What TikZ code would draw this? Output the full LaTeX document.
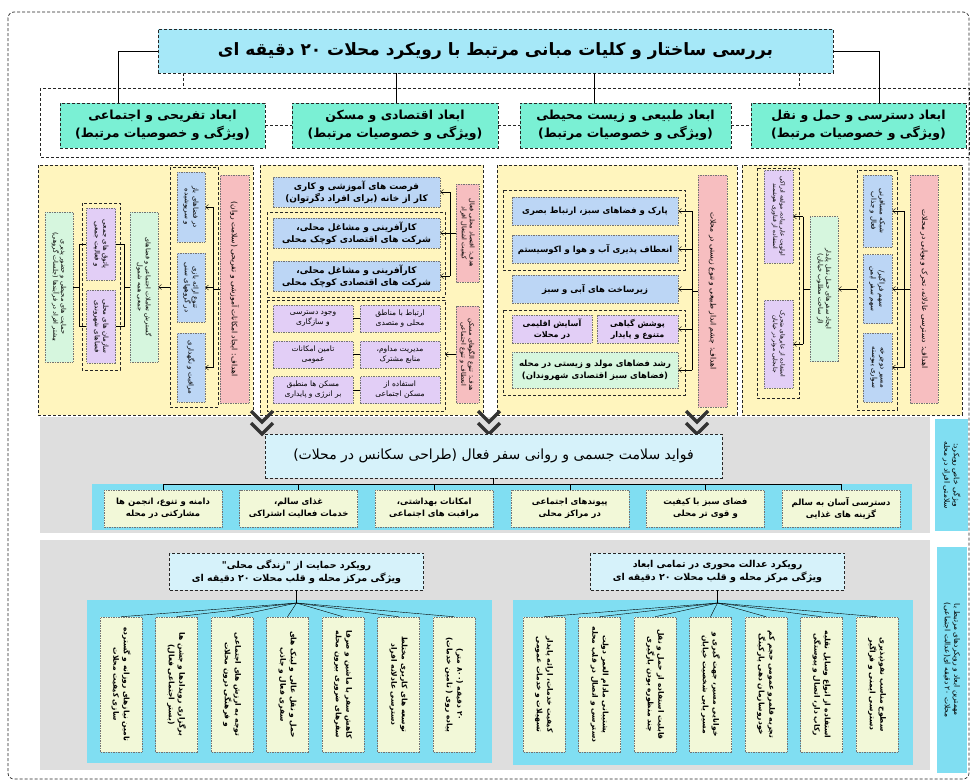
\documentclass[tikz,border=0pt]{standalone}
\usepackage{fontspec}
\newfontfamily\farsi[Script=Arabic]{DejaVu Sans}
\TeXXeTstate=1
\newcommand{\fa}[1]{\beginR#1\endR}
\usetikzlibrary{arrows.meta,positioning}
\definecolor{titlecyan}{RGB}{166,232,248}
\definecolor{dimgreen}{RGB}{122,240,212}
\definecolor{colyellow}{RGB}{255,245,190}
\definecolor{goalpink}{RGB}{247,190,192}
\definecolor{itemblue}{RGB}{188,214,245}
\definecolor{itempurple}{RGB}{226,206,246}
\definecolor{itemgreen}{RGB}{214,246,222}
\definecolor{bandgray}{RGB}{222,222,222}
\definecolor{stripcyan}{RGB}{128,222,242}
\definecolor{cellcream}{RGB}{242,248,216}
\definecolor{lightcyan}{RGB}{214,242,250}

\begin{document}
\begin{tikzpicture}[x=1pt, y=-1pt,
	font=\farsi,
	>={Straight Barb[length=3pt,width=5pt]},
	dashframe/.style={draw=black!85, dash pattern=on 3pt off 2pt, line width=.7pt},
	colbox/.style={dashframe, fill=colyellow},
	groupbox/.style={dashframe, line width=.6pt},
	box/.style={draw=black!55, dash pattern=on 1.5pt off 1pt, line width=.5pt, align=center, inner sep=1pt},
	sideways/.style={rotate=-90},
	headbox/.style={box, dashframe, fill=titlecyan, minimum width=675, minimum height=44, font=\farsi\bfseries\fontsize{17}{20}\selectfont},
	dimbox/.style={box, dashframe, fill=dimgreen, minimum height=45, font=\farsi\bfseries\fontsize{12.5}{18}\selectfont},
	goalbox/.style={box, sideways, fill=goalpink, font=\farsi\fontsize{7.5}{9}\selectfont},
	bluebox/.style={box, fill=itemblue, minimum width=167, font=\farsi\bfseries\fontsize{9}{12}\selectfont},
	smallblue/.style={box, sideways, fill=itemblue, minimum height=28, font=\farsi\fontsize{7}{8.5}\selectfont},
	smallpurple/.style={box, sideways, fill=itempurple, minimum height=29, font=\farsi\fontsize{7}{8.5}\selectfont},
	smallgreen/.style={box, sideways, fill=itemgreen, minimum height=28, font=\farsi\fontsize{6.5}{8}\selectfont},
	purplebox/.style={box, fill=itempurple, minimum width=80, minimum height=27, font=\farsi\fontsize{7.5}{10}\selectfont},
	greenbox/.style={box, fill=itemgreen, font=\farsi\bfseries\fontsize{8.5}{12}\selectfont},
	benefitbox/.style={box, dashframe, fill=lightcyan, minimum width=457, minimum height=44, font=\farsi\fontsize{14}{17}\selectfont},
	cellbox/.style={box, fill=cellcream, minimum width=118, minimum height=37, font=\farsi\bfseries\fontsize{8.5}{12}\selectfont},
	approach/.style={box, dashframe, fill=lightcyan, minimum width=254, minimum height=37, font=\farsi\bfseries\fontsize{9.5}{13}\selectfont},
	tallcell/.style={box, sideways, fill=cellcream, minimum width=135, minimum height=42, font=\farsi\bfseries\fontsize{7.5}{10.5}\selectfont},
	sidelabel/.style={box, sideways, draw=none, fill=stripcyan, font=\farsi\fontsize{7.5}{9.5}\selectfont},
	chevron/.style={line width=3.5pt, draw=black!80},
]
\fill[white] (0,0) rectangle (971,782);
\useasboundingbox (0,0) rectangle (971,782);
\draw[dashframe, rounded corners=6] (8,12) rectangle (969,779);
\draw[dashframe] (40,88) rectangle (969,157);

\node[headbox] (title) at (495.5,51) {\fa{بررسی ساختار و کلیات مبانی مرتبط با رویکرد محلات ۲۰ دقیقه ای}};
\node[dimbox, minimum width=205] (dRec) at (162.5,125.5) {\fa{ابعاد تفریحی و اجتماعی}\\\fa{(ویژگی و خصوصیات مرتبط)}};
\node[dimbox, minimum width=206] (dEco) at (395,125.5) {\fa{ابعاد اقتصادی و مسکن}\\\fa{(ویژگی و خصوصیات مرتبط)}};
\node[dimbox, minimum width=211] (dEnv) at (625.5,125.5) {\fa{ابعاد طبیعی و زیست محیطی}\\\fa{(ویژگی و خصوصیات مرتبط)}};
\node[dimbox, minimum width=215] (dAcc) at (858.5,125.5) {\fa{ابعاد دسترسی و حمل و نقل}\\\fa{(ویژگی و خصوصیات مرتبط)}};
\coordinate (kRec) at (118,103);
\coordinate (kEco) at (396,103);
\coordinate (kEnv) at (594,103);
\coordinate (kAcc) at (879,103);
\coordinate (kL) at (183,88);
\coordinate (kR) at (799,88);
\draw[line width=.8pt] (title.west) -| (kRec);
\draw[line width=.8pt] (title.east) -| (kAcc);
\draw[line width=.8pt] (title.south -| kEco) -- (kEco);
\draw[line width=.8pt] (title.south -| kEnv) -- (kEnv);
\draw[dashframe] (title.south -| kL) -- (kL);
\draw[dashframe] (title.south -| kR) -- (kR);
\draw[dashframe] (dRec) -- (dEco);
\draw[dashframe] (dEco) -- (dEnv);
\draw[dashframe] (dEnv) -- (dAcc);

\foreach \xa/\xb in {38/253, 260/483, 497/737, 742/962}
	\draw[colbox] (\xa,165) rectangle (\xb,415);

\node[goalbox, minimum width=228, minimum height=29] (pRec) at (234.5,289) {\fa{اهداف: ایجاد امکانات آموزشی و تفریحی (سلامت روان)}};
\draw[groupbox] (170,167) rectangle (218,407);
\node[smallblue, minimum width=70] (bRec1) at (191,207) {\fa{در فضاهای باز}\\\fa{و سرپوشیده}};
\node[smallblue, minimum width=69] (bRec2) at (191,287.5) {\fa{تنوع ارائه بازی}\\\fa{در گروههای سنی}};
\node[smallblue, minimum width=69] (bRec3) at (191,367.5) {\fa{مراقبت و نگهداری}};
\coordinate (busRec) at (213,289);
\draw (pRec) -- (busRec);
\draw (busRec |- bRec1) -- (busRec |- bRec3);
\foreach \n in {bRec1,bRec2,bRec3}
	\draw[->] (busRec |- \n) -- (\n);
\node[smallgreen, minimum width=150] (gRec1) at (144,287) {\fa{گسترش تعاملات اجتماعی و فضاهای}\\\fa{جمعی همه شمول}};
\coordinate (eRec) at (170,287);
\draw[->] (eRec) -- (gRec1);
\draw[groupbox] (82,203) rectangle (120,370);
\node[smallpurple, minimum width=72] (uRec1) at (101,244) {\fa{پاتوق های جمعی}\\\fa{و فعالیت جمعی}};
\node[smallpurple, minimum width=73] (uRec2) at (101,326.5) {\fa{سازمان های محلی}\\\fa{فضاهای شهروندی}};
\node[smallgreen, minimum width=150] (gRec2) at (59,287) {\fa{حمایت های محیطی و حضور پذیری}\\\fa{بیشتر افراد در فرآیندها (جلسات گروهی)}};
\coordinate (jRec1) at (124,287);
\coordinate (jRec2) at (79,287);
\draw (uRec1) -| (jRec1) -- (gRec1);
\draw (uRec2) -| (jRec1);
\draw (uRec1) -| (jRec2) -- (gRec2);
\draw (uRec2) -| (jRec2);

\node[goalbox, minimum width=98, minimum height=23, font=\farsi\fontsize{6.5}{8}\selectfont] (pEco1) at (467.5,233) {\fa{هدف: اقتصاد محلی فعال}\\\fa{کیفیت اشتغال افراد}};
\node[goalbox, minimum width=97, minimum height=23, font=\farsi\fontsize{6.5}{8}\selectfont] (pEco2) at (467.5,354.5) {\fa{هدف: تنوع الگوهای مسکن}\\\fa{انعطاف و تنوع اجتماعی}};
\node[bluebox, minimum height=30] (bEco1) at (356.5,192) {\fa{فرصت های آموزشی و کاری}\\\fa{کار از خانه (برای افراد دگرتوان)}};
\draw[groupbox] (267,212) rectangle (445,297);
\node[bluebox, minimum height=30] (bEco2) at (356.5,233) {\fa{کارآفرینی و مشاغل محلی،}\\\fa{شرکت های اقتصادی کوچک محلی}};
\node[bluebox, minimum height=30] (bEco3) at (356.5,276) {\fa{کارآفرینی و مشاغل محلی،}\\\fa{شرکت های اقتصادی کوچک محلی}};
\coordinate (busEco) at (450,233);
\draw (pEco1) -- (busEco);
\draw (busEco |- bEco1) -- (busEco |- bEco3);
\foreach \n in {bEco1,bEco2,bEco3}
	\draw[->] (busEco |- \n) -- (\n);
\draw[groupbox] (267,300) rectangle (445,411);
\node[purplebox] (cEco1) at (400,318.5) {\fa{ارتباط با مناطق}\\\fa{محلی و متصدی}};
\node[purplebox] (cEco2) at (313,318.5) {\fa{وجود دسترسی}\\\fa{و سازگاری}};
\node[purplebox] (cEco3) at (400,354.5) {\fa{مدیریت مداوم،}\\\fa{منابع مشترک}};
\node[purplebox] (cEco4) at (313,354.5) {\fa{تامین امکانات}\\\fa{عمومی}};
\node[purplebox] (cEco5) at (400,390) {\fa{استفاده از}\\\fa{مسکن اجتماعی}};
\node[purplebox] (cEco6) at (313,390) {\fa{مسکن ها منطبق}\\\fa{بر انرژی و پایداری}};
\draw (cEco1) -- (cEco2);
\draw (cEco3) -- (cEco4);
\draw (cEco5) -- (cEco6);
\coordinate (eEco) at (445,354.5);
\draw[->] (pEco2) -- (eEco);

\node[goalbox, minimum width=232, minimum height=29] (pEnv) at (712.5,291) {\fa{اهداف: چشم انداز طبیعی و تنوع زیستی در محلات}};
\draw[groupbox] (503,190) rectangle (685,270);
\node[bluebox, minimum width=166, minimum height=28, font=\farsi\bfseries\fontsize{8.5}{12}\selectfont] (bEnv1) at (595,211) {\fa{پارک و فضاهای سبز، ارتباط بصری}};
\node[bluebox, minimum width=166, minimum height=28, font=\farsi\bfseries\fontsize{8.5}{12}\selectfont] (bEnv2) at (595,249) {\fa{انعطاف پذیری آب و هوا و اکوسیستم}};
\node[bluebox, minimum width=166, minimum height=28, font=\farsi\bfseries\fontsize{8.5}{12}\selectfont] (bEnv3) at (595,289) {\fa{زیرساخت های آبی و سبز}};
\draw[groupbox] (503,310) rectangle (685,395);
\node[purplebox, minimum width=81, minimum height=28, font=\farsi\bfseries\fontsize{8}{11}\selectfont] (uEnv1) at (637.5,329) {\fa{پوشش گیاهی}\\\fa{متنوع و پایدار}};
\node[purplebox, minimum height=28, font=\farsi\bfseries\fontsize{8}{11}\selectfont] (uEnv2) at (552,329) {\fa{آسایش اقلیمی}\\\fa{در محلات}};
\node[greenbox, minimum width=166, minimum height=36] (gEnv) at (595,370) {\fa{رشد فضاهای مولد و زیستی در محله}\\\fa{(فضاهای سبز اقتصادی شهروندان)}};
\coordinate (busEnv) at (692,291);
\draw (pEnv) -- (busEnv);
\draw (busEnv |- bEnv1) -- (busEnv |- gEnv);
\foreach \n in {bEnv1,bEnv2,bEnv3,uEnv1,gEnv}
	\draw[->] (busEnv |- \n) -- (\n);

\node[goalbox, minimum width=228, minimum height=28] (pAcc) at (924,289) {\fa{اهداف: دسترسی عادلانه، تحرک و پویایی در محلات}};
\draw[groupbox] (857,170) rectangle (897,410);
\node[smallblue, minimum width=72, minimum height=29] (bAcc1) at (877.5,211) {\fa{شبکه مسافرتی}\\\fa{فعال و جذاب}};
\node[smallblue, minimum width=69, minimum height=29] (bAcc2) at (877.5,289) {\fa{سهم فراگیر/}\\\fa{سهم سفر ایمن}};
\node[smallblue, minimum width=69, minimum height=29] (bAcc3) at (877.5,367.5) {\fa{مسیر دوچرخه}\\\fa{سواری پیوسته}};
\coordinate (busAcc) at (904,289);
\draw (pAcc) -- (busAcc);
\draw (busAcc |- bAcc1) -- (busAcc |- bAcc3);
\foreach \n in {bAcc1,bAcc2,bAcc3}
	\draw[->] (busAcc |- \n) -- (\n);
\node[smallgreen, minimum width=145] (gAcc) at (824,289) {\fa{ایجاد سفرهای حمل نقل پایدار}\\\fa{(از ساخت مطلوب خیابان)}};
\coordinate (eAcc) at (857,289);
\draw[->] (eAcc) -- (gAcc);
\draw[groupbox] (757,168) rectangle (799,398);
\node[smallpurple, minimum width=93, font=\farsi\fontsize{6}{7.5}\selectfont] (uAcc1) at (778.5,216.5) {\fa{اولویت عابر پیاده، مولفه ادراکی}\\\fa{استفاده از فناوری هوشمند}};
\node[smallpurple, minimum width=88, font=\farsi\fontsize{6}{7.5}\selectfont] (uAcc2) at (778.5,344) {\fa{استفاده از عابرهای متحرک}\\\fa{جابجایی موثر در خیابان}};
\coordinate (busAcc2) at (803,289);
\draw (gAcc) -- (busAcc2);
\draw (busAcc2 |- uAcc1) -- (busAcc2 |- uAcc2);
\foreach \n in {uAcc1,uAcc2}
	\draw[->] (busAcc2 |- \n) -- (\n);

\fill[bandgray] (40,417) rectangle (930,533);
\fill[stripcyan] (92,484) rectangle (912,530);
\foreach \x in {262,489,697} {
	\draw[chevron] (\x-11,411) -- (\x,422) -- (\x+11,411);
	\draw[chevron] (\x-11,423) -- (\x,434) -- (\x+11,423);
}
\node[benefitbox] (benefit) at (493.5,456) {\fa{فواید سلامت جسمی و روانی سفر فعال (طراحی سکانس در محلات)}};
\foreach \i/\ta/\tb in {0/{دامنه و تنوع، انجمن ها}/{مشارکتی در محله},
	1/{غذای سالم،}/{خدمات فعالیت اشتراکی},
	2/{امکانات بهداشتی،}/{مراقبت های اجتماعی},
	3/{پیوندهای اجتماعی}/{در مراکز محلی},
	4/{فضای سبز با کیفیت}/{و قوی تر محلی},
	5/{دسترسی آسان به سالم}/{گزینه های غذایی}}
	\node[cellbox] (m\i) at ({163+135.6*\i},508.5) {\fa{\ta}\\\fa{\tb}};
\coordinate (hubMid) at (493.5,484);
\draw (benefit) -- (hubMid);
\draw (hubMid -| m0) -- (hubMid -| m5);
\foreach \i in {0,...,5}
	\draw (hubMid -| m\i) -- (m\i);
\node[sidelabel, minimum width=112, minimum height=33] (lblMid) at (951.5,475) {\fa{ویژگی خاص رویکرد:}\\\fa{سلامتی افراد در محله}};

\fill[bandgray] (40,540) rectangle (930,770);
\fill[stripcyan] (87,600) rectangle (492,763);
\fill[stripcyan] (513,600) rectangle (913,765);
\node[approach] (apL) at (296.5,571.5) {\fa{رویکرد حمایت از "زندگی محلی"}\\\fa{ویژگی مرکز محله و قلب محلات ۲۰ دقیقه ای}};
\node[approach] (apR) at (717.5,571.5) {\fa{رویکرد عدالت محوری در تمامی ابعاد}\\\fa{ویژگی مرکز محله و قلب محلات ۲۰ دقیقه ای}};
\foreach \i/\ta/\tb in {0/{تامین نیازهای روزانه و گسترده}/{سازی کیفیت محلات},
	1/{برگزاری رویدادها و جشن ها}/{(بستر اجتماعی فعال)},
	2/{توجه به ارزش های اجتماعی}/{و فرهنگی درون محلات},
	3/{حمل و نقل عالی و لینک های}/{سفری فعال و جاذب},
	4/{کاهش سفر با ماشین و صرفا}/{سفرهای ضروری بیرون محله},
	5/{توسعه های کاربری مختلط}/{دسترسی عادلانه افراد},
	6/{۲۰ دقیقه (۸۰۰ متر)}/{پیاده روی ( تامین خدمات)}}
	\node[tallcell] (l\i) at ({121+55.5*\i},684.5) {\fa{\ta}\\\fa{\tb}};
\foreach \i/\ta/\tb in {0/{کیفیت خدمات، ارائه پایدار}/{تسهیلات و خدمات عمومی},
	1/{پشتیبانی مادام العمر دولت}/{دسترسی و اتصال در قلب محله},
	2/{قابلیت استفاده از حمل و نقل}/{چند منظوره بودن بارگیری},
	3/{خوانایی مسیر، جهت گیری و}/{مسیر یابی شخصیت خیابان},
	4/{تجربه قلمرو عمومی حجم کم}/{خودروسازمان دهی پارکینگ},
	5/{استفاده از انواع وسایل نقلیه}/{رکاب دار، اتصال و پیوستگی},
	6/{سطوح مناسب نفوذپذیری}/{دسترسی ایمنی و فراگیر}}
	\node[tallcell] (r\i) at ({544+55.5*\i},684.5) {\fa{\ta}\\\fa{\tb}};
\coordinate (hubL) at (296.5,603);
\coordinate (hubR) at (717.5,603);
\draw (apL) -- (hubL);
\draw (apR) -- (hubR);
\foreach \i in {0,...,6} {
	\draw (hubL) -- (l\i.west);
	\draw (hubR) -- (r\i.west);
}
\node[sidelabel, minimum width=226, minimum height=30] (lblBot) at (952,660) {\fa{مهمترین ابعاد و رویکردهای مرتبط با}\\\fa{محلات ۲۰ دقیقه ای(عدالت اجتماعی)}};
\end{tikzpicture}
\end{document}
